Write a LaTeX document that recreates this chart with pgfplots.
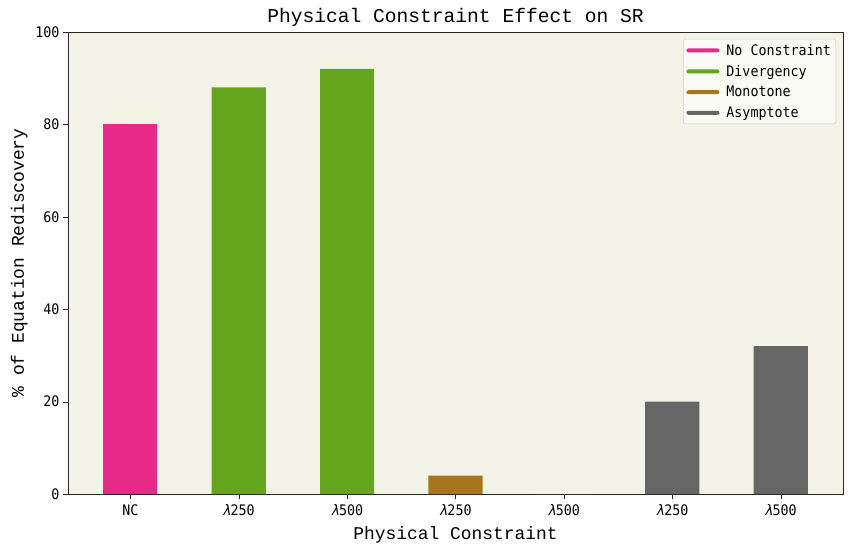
\documentclass[border=0pt]{standalone}
\usepackage{pgfplots}
\pgfplotsset{compat=1.18}
\usepackage{fontspec}
\setmainfont{Liberation Mono}
\newfontfamily\tickfont[FakeStretch=0.92]{DejaVu Sans Mono}
\definecolor{bg}{HTML}{F3F3E7}
\definecolor{cpink}{HTML}{E7298A}
\definecolor{cgreen}{HTML}{66A61E}
\definecolor{cbrown}{HTML}{A6761D}
\definecolor{cgray}{HTML}{666666}
\newcommand{\lam}{{\itshape λ}}
\begin{document}
\begin{tikzpicture}
\begin{axis}[
  scale only axis, width=775pt, height=462pt,
  xmin=-0.575, xmax=6.575, ymin=0, ymax=100,
  axis background/.style={fill=bg},
  axis line style={black!85},
  xtick={0,1,2,3,4,5,6},
  xticklabels={NC,\lam250,\lam500,\lam250,\lam500,\lam250,\lam500},
  ytick={0,20,40,60,80,100},
  tick align=outside, tick pos=left, major tick length=5pt,
  tick style={black!85},
  ticklabel style={font=\fontsize{14.5}{17}\selectfont\tickfont},
  x tick label style={yshift=-2pt},
  /pgf/number format/assume math mode=true,
  title={Physical Constraint Effect on SR},
  title style={font=\fontsize{19.6}{22}\selectfont, yshift=-4.5pt},
  xlabel={Physical Constraint},
  ylabel={\% of Equation Rediscovery},
  label style={font=\fontsize{17.9}{20}\selectfont},
  xlabel style={yshift=-4pt},
  ylabel style={yshift=1pt},
  legend style={at={(0.991,0.985)}, anchor=north east, font=\fontsize{14.5}{17}\selectfont\tickfont,
    draw=black!20, rounded corners=2pt, fill=white, fill opacity=0.6, text opacity=1,
    cells={anchor=west}, row sep=4.5pt, inner sep=3pt},
  legend image code/.code={\path[fill, fill opacity=1] (0pt,-2pt) rectangle (33pt,2pt);
    \path (0pt,0pt) -- (38pt,0pt);},
  every axis plot/.append style={ybar, bar width=0.5, bar shift=0pt, draw=none},
]
\addplot[fill=cpink] coordinates {(0,80)};
\addlegendentry{No Constraint}
\addplot[fill=cgreen] coordinates {(1,88) (2,92)};
\addlegendentry{Divergency}
\addplot[fill=cbrown] coordinates {(3,4) (4,0)};
\addlegendentry{Monotone}
\addplot[fill=cgray] coordinates {(5,20) (6,32)};
\addlegendentry{Asymptote}
\coordinate (sw) at (rel axis cs:0,0);
\coordinate (ne) at (rel axis cs:1,1);
\end{axis}
\pgfresetboundingbox
\path[use as bounding box] ([shift={(-68pt,-58pt)}]sw) rectangle ([shift={(10pt,32pt)}]ne);
\end{tikzpicture}
\end{document}
